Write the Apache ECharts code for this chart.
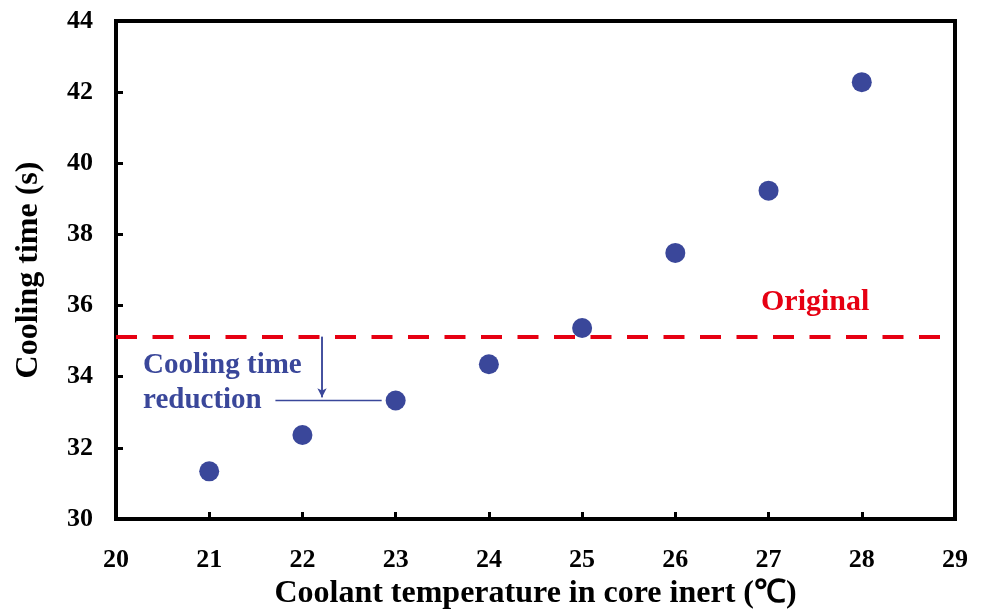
<!DOCTYPE html>
<html><head><meta charset="utf-8">
<script src="https://cdn.jsdelivr.net/npm/echarts@6/dist/echarts.min.js"></script>
<style>html,body{margin:0;padding:0;background:#fff}#c{width:983px;height:615px}</style>
</head><body><div id="c"></div>
<script>
// Data
const temperatures = [21, 22, 23, 24, 25, 26, 27, 28];
const coolingTimes = [31.34, 32.36, 33.33, 34.35, 35.37, 37.48, 39.23, 42.28];
const originalTime = 35.12;
const xTicks = [20, 21, 22, 23, 24, 25, 26, 27, 28, 29];
const yTicks = [30, 32, 34, 36, 38, 40, 42, 44];
// annotation (data units)
const arrowX = 22.21;
const arrowEndY = 33.42;
const bracketXs = [21.71, 22.85];
const bracketY = 33.33;
const originalLabelPos = [27.5, 35.12];
const reductionLabelPos = [20.29, 33.82];

const font = '"Liberation Serif", "Times New Roman", serif';
const blue = '#3A479A';
const red = '#E60012';

const chart = echarts.init(document.getElementById('c'), null, {renderer: 'canvas'});
chart.setOption({
  animation: false,
  backgroundColor: '#fff',
  grid: {left: 116, right: 28, top: 21, bottom: 90, show: true, borderColor: '#000', borderWidth: 4, backgroundColor: 'transparent'},
  xAxis: {
    type: 'value', min: xTicks[0], max: xTicks[xTicks.length-1], interval: 1,
    name: 'Coolant temperature in core inert (℃)', nameLocation: 'middle', nameGap: 59,
    nameTextStyle: {fontFamily: font, fontWeight: 'bold', fontSize: 32, color: '#000'},
    axisLine: {show: false},
    axisTick: {show: true, inside: true, length: 7, lineStyle: {color: '#000', width: 3}},
    axisLabel: {margin: 28, fontFamily: font, fontWeight: 'bold', fontSize: 26, color: '#000'},
    splitLine: {show: false}
  },
  yAxis: {
    type: 'value', min: yTicks[0], max: yTicks[yTicks.length-1], interval: 2,
    name: 'Cooling time (s)', nameLocation: 'middle', nameGap: 71, nameRotate: 90,
    nameTextStyle: {fontFamily: font, fontWeight: 'bold', fontSize: 32, color: '#000'},
    axisLine: {show: false},
    axisTick: {show: true, inside: true, length: 7, lineStyle: {color: '#000', width: 3}},
    axisLabel: {margin: 23, fontFamily: font, fontWeight: 'bold', fontSize: 26, color: '#000'},
    splitLine: {show: false}
  },
  series: [
    {
      type: 'scatter', data: temperatures.map((t, i) => [t, coolingTimes[i]]),
      symbolSize: 20, itemStyle: {color: blue, opacity: 1}, z: 5,
      markLine: {
        silent: true, symbol: 'none', animation: false,
        lineStyle: {color: red, width: 4, type: [21, 15.5], opacity: 1},
        label: {show: false},
        data: [{yAxis: originalTime}]
      }
    },
    {
      type: 'line', data: [[arrowX, originalTime], [arrowX, arrowEndY]],
      showSymbol: false, lineStyle: {color: blue, width: 1.5}, z: 3,
      markLine: {
        silent: true, symbol: ['none', 'arrow'], symbolSize: [7, 9],
        lineStyle: {color: blue, width: 1.5, type: 'solid', opacity: 1}, label: {show: false},
        data: [[{coord: [arrowX, originalTime]}, {coord: [arrowX, arrowEndY]}]]
      }
    },
    {
      type: 'line', data: [[bracketXs[0], bracketY], [bracketXs[1], bracketY]],
      showSymbol: false, lineStyle: {color: blue, width: 1.5}, z: 3
    },
    {
      type: 'scatter', symbolSize: 0, z: 6, itemStyle: {opacity: 1},
      data: [
        {value: originalLabelPos, label: {show: true, formatter: 'Original', position: 'top', distance: 20, color: red, fontFamily: font, fontWeight: 'bold', fontSize: 30}},
        {value: reductionLabelPos, label: {show: true, formatter: 'Cooling time\nreduction', position: 'right', distance: 0, align: 'left', lineHeight: 35, color: blue, fontFamily: font, fontWeight: 'bold', fontSize: 29}}
      ]
    }
  ]
});
</script></body></html>
